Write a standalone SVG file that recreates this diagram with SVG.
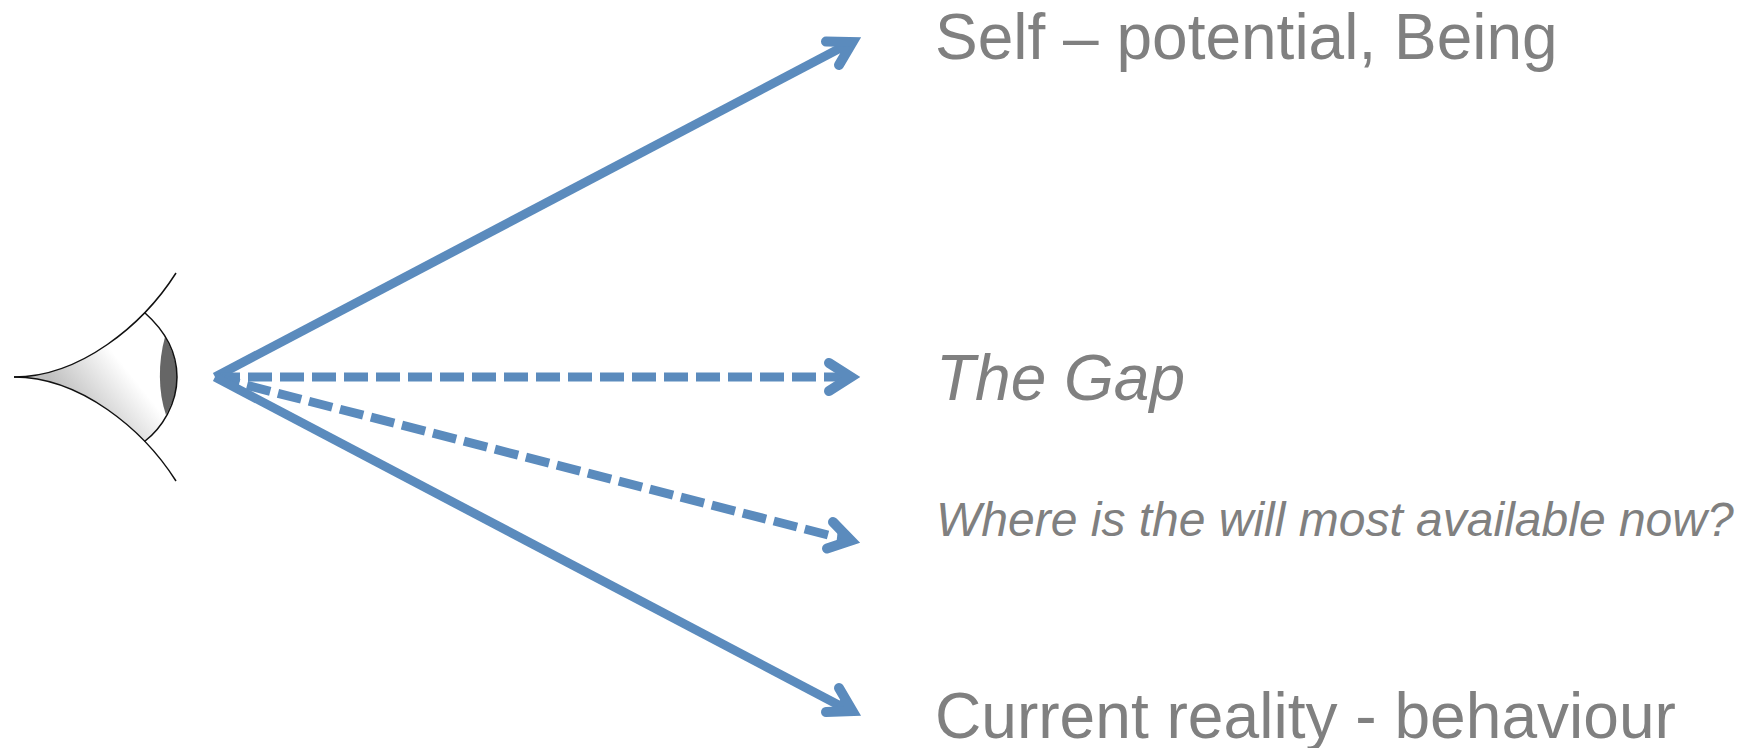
<svg xmlns="http://www.w3.org/2000/svg" width="1753" height="748" viewBox="0 0 1753 748">
<style>
.t{font-family:"Liberation Sans",Arial,sans-serif;fill:#808080}
.c{fill:none;stroke:#5b8bbd;stroke-width:9}
.d{stroke-dasharray:24 8}
.h{fill:none;stroke:#5b8bbd;stroke-width:10;stroke-linecap:round;stroke-linejoin:miter;stroke-miterlimit:6}
.f{fill:#5b8bbd}
.e{fill:none;stroke:#111;stroke-width:1.5}
</style>
<defs>
<linearGradient id="g" gradientUnits="userSpaceOnUse" x1="52" y1="381" x2="103" y2="340">
<stop offset="0" stop-color="#c0c0c0"/><stop offset="1" stop-color="#fff"/>
</linearGradient>
</defs>
<rect width="1753" height="748" fill="#fff"/>
<g id="eye">
<path d="M14 377C62.840 377 110 348.500 144.500 312.500C162 328 177 350 177 377C177 404 162 428 144.500 441.500C110 405.500 62.840 377 14 377Z" fill="url(#g)" stroke="none"/>
<path d="M165 337C158 362 158 392 166 415C172 404 177 392 177 377C177 362 172 350 165 337Z" fill="#666"/>
<path class="e" d="M14 377C80 377 143 325 176 273"/>
<path class="e" d="M14 377C80 377 143 429 176 481"/>
<path class="e" d="M144.500 312.500C162 328 177 350 177 377C177 404 162 428 144.500 441.500"/>
</g>
<g id="connectors">
<path class="c" d="M215 377L850 43"/>
<path class="f" d="M852 42L834 42L843 58Z"/>
<path class="h" d="M826 41.500L852.500 42L839 65"/>
<path class="c" d="M215 377H240"/>
<path class="c d" d="M248 377H824"/>
<path class="c" d="M824 377H850"/>
<path class="f" d="M851 377L836 367L836 387Z"/>
<path class="h" d="M829 363L851 377L829 391"/>
<path class="c d" d="M216 377.300L830 535.500"/>
<path class="f" d="M852 540L838 528L836 547Z"/>
<path class="h" d="M833 522L851 540.500L827 548.500"/>
<path class="c" d="M215 377L850 711"/>
<path class="f" d="M852 711L834 711L843 695Z"/>
<path class="h" d="M826 712L852.500 711L839 688"/>
</g>
<g id="label-self"><text class="t" x="935" y="59" font-size="64">Self – potential, Being</text></g>
<g id="label-gap"><text class="t" x="936" y="400" font-size="64" font-style="italic">The Gap</text></g>
<g id="label-will"><text class="t" x="936" y="536" font-size="48" font-style="italic">Where is the will most available now?</text></g>
<g id="label-current"><text class="t" x="935" y="738" font-size="64.100">Current reality - behaviour</text></g>
</svg>
